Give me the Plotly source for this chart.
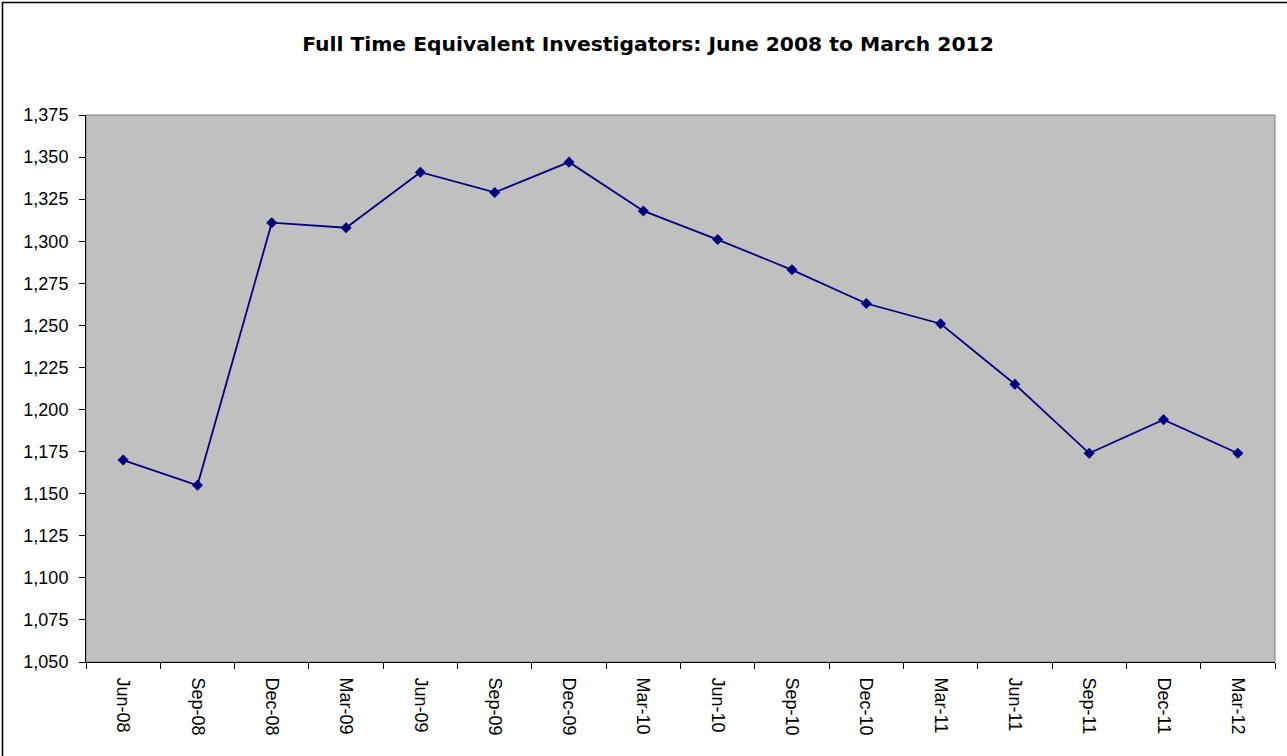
import plotly.graph_objects as go

categories = ["Jun-08", "Sep-08", "Dec-08", "Mar-09", "Jun-09", "Sep-09", "Dec-09", "Mar-10",
              "Jun-10", "Sep-10", "Dec-10", "Mar-11", "Jun-11", "Sep-11", "Dec-11", "Mar-12"]
fte_values = [1170, 1155, 1311, 1308, 1341, 1329, 1347, 1318,
              1301, 1283, 1263, 1251, 1215, 1174, 1194, 1174]
y_min, y_max, y_step = 1050, 1375, 25
title_text = "Full Time Equivalent Investigators: June 2008 to March 2012"

W, H = 1287, 756
L, R, T, B = 86, 12, 115, 94
pw, ph = W - L - R, H - T - B

fig = go.Figure()
fig.add_trace(go.Scatter(
    x=categories, y=fte_values, mode="lines+markers",
    line=dict(color="#000080", width=1.8),
    marker=dict(symbol="diamond", size=8.5, color="#000080"),
    showlegend=False, cliponaxis=False,
))

font = "Liberation Sans, Arial, sans-serif"
fig.update_layout(
    width=W, height=H,
    margin=dict(l=L, r=R, t=T, b=B, pad=0),
    paper_bgcolor="white", plot_bgcolor="#C0C0C0",
    font=dict(family=font, size=18, color="black"),
    title=dict(text="<b>" + title_text + "</b>", x=648 / W, xanchor="center",
               y=1 - 44 / H, yanchor="middle",
               font=dict(family="DejaVu Sans, sans-serif", size=20.3, color="black")),
    xaxis=dict(type="category", range=[-0.5, len(categories) - 0.5], tickangle=90,
               tickson="boundaries", ticks="outside", ticklen=6, tickcolor="black", tickwidth=1,
               showline=True, linecolor="black", linewidth=1, showgrid=False, zeroline=False,
               ticklabelstandoff=11, fixedrange=True),
    yaxis=dict(range=[y_min, y_max], dtick=y_step, tick0=y_min, tickformat=",d",
               ticks="outside", ticklen=6, tickcolor="black", tickwidth=1,
               showline=True, linecolor="black", linewidth=1, showgrid=False, zeroline=False,
               ticklabelstandoff=7, fixedrange=True),
    shapes=[
        dict(type="rect", xref="paper", yref="paper", x0=0, x1=1, y0=0, y1=1,
             line=dict(color="#808080", width=1), layer="below"),
        dict(type="rect", xref="paper", yref="paper",
             x0=(2.5 - L) / pw, x1=(W + 10 - L) / pw,
             y0=-(H + 10 - T - ph) / ph, y1=(H - B - 2.5) / ph,
             line=dict(color="black", width=1.6), layer="above"),
    ],
)

fig.write_html("out.html", config={"displayModeBar": False},
               post_script="document.body.style.margin='0';document.body.style.overflow='hidden';")
